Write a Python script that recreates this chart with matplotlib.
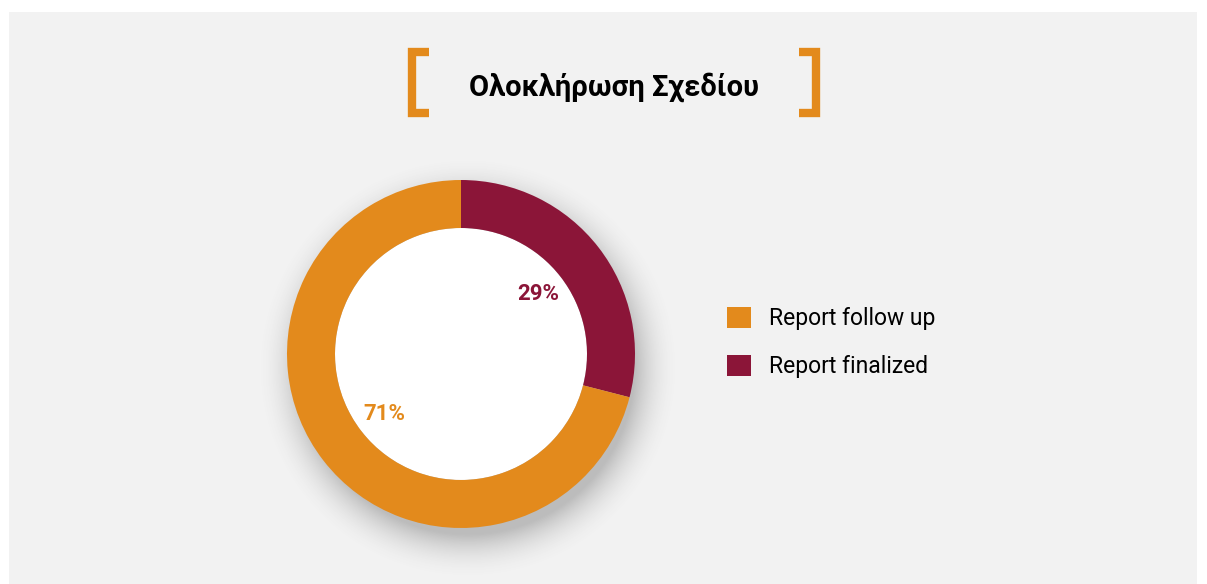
import numpy as np
import matplotlib
matplotlib.use('Agg')
import matplotlib.pyplot as plt
from matplotlib.patches import Rectangle, Circle

plt.rcParams['font.family'] = ['Roboto', 'DejaVu Sans']

title = 'Ολοκλήρωση Σχεδίου'
labels = ['Report finalized', 'Report follow up']
values = [29, 71]
colors = ['#8B1538', '#E38A1C']

W, H = 1207, 584
fig = plt.figure(figsize=(W / 100, H / 100), dpi=100, facecolor='white')

# grey panel
fig.patches.append(Rectangle((9 / W, 0), (1197 - 9) / W, (H - 12) / H,
                             transform=fig.transFigure, facecolor='#f2f2f2',
                             edgecolor='none', zorder=-5))

# orange brackets around the title
def bracket(x_out, x_in):
    y0, y1 = 1 - 113 / H, 1 - 52 / H
    fig.lines.append(plt.Line2D([x_in / W, x_out / W, x_out / W, x_in / W],
                                [y1, y1, y0, y0], transform=fig.transFigure,
                                color='#E38A1C', lw=6, solid_joinstyle='miter',
                                solid_capstyle='butt'))

bracket(412, 429)
bracket(816, 799)
fig.text(614 / W, 1 - 87 / H, title, ha='center', va='center',
         fontsize=21, fontweight='bold', color='black')

# donut axes: centre (461, 354 from top), radius 174 px
R = 174
L = 1.35
cx, cy = 461, H - 354
ax = fig.add_axes([(cx - L * R) / W, (cy - L * R) / H, 2 * L * R / W, 2 * L * R / H])
ax.axis('off')

# soft drop shadow
g = np.linspace(-L, L, 500)
X, Y = np.meshgrid(g, g)
d = np.hypot(X - 0.04, Y + 0.08)
a = np.clip(1 - (d - 0.96) / 0.26, 0, 1) ** 2 * 0.35
shadow = np.zeros((500, 500, 4))
shadow[..., :3] = 0.35
shadow[..., 3] = a
ax.imshow(shadow, extent=(-L, L, -L, L), origin='lower', zorder=0, interpolation='bilinear')

wedges, texts, autotexts = ax.pie(values, colors=colors, startangle=90, counterclock=False,
                                  radius=1, autopct='%d%%', pctdistance=0.56,
                                  wedgeprops=dict(width=1 - 126 / R, linewidth=0),
                                  textprops=dict(fontsize=16, fontweight='bold'))
for w in wedges:
    w.set_zorder(2)
ax.add_patch(Circle((0, 0), 126 / R, facecolor='white', edgecolor='none', zorder=1))
for t, c in zip(autotexts, colors):
    t.set_color(c)
    t.set_zorder(3)
ax.set_xlim(-L, L)
ax.set_ylim(-L, L)
ax.set_aspect('equal')

leg = fig.legend([wedges[1], wedges[0]], [labels[1], labels[0]], loc='upper left',
                 bbox_to_anchor=(727 / W, 1 - 307 / H), frameon=False, fontsize=16.5,
                 handlelength=1.05, handleheight=1.05, handletextpad=0.8,
                 labelspacing=1.05, borderpad=0, borderaxespad=0)
for h in leg.legend_handles:
    h.set_edgecolor('none')

fig.savefig('out.png', dpi=100, facecolor='white')
